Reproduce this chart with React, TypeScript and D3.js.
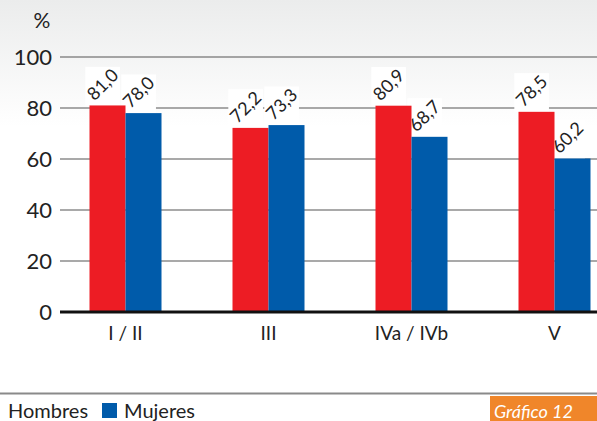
import React from "react";
import * as d3 from "d3";

const categories = ["I / II", "III", "IVa / IVb", "V"];
const hombres = [81.0, 72.2, 80.9, 78.5];
const mujeres = [78.0, 73.3, 68.7, 60.2];
const yTicks = [0, 20, 40, 60, 80, 100];
const seriesNames = ["Hombres", "Mujeres"];
const colors = ["#ed1c24", "#005baa"];

const W = 597;
const H = 421;
const FONT = "Lato, 'Open Sans', sans-serif";

const App = () => {
  const left = 60;
  const y = d3.scaleLinear().domain([0, 100]).range([312, 57]);
  const x0 = d3.scaleBand().domain(categories).range([54, 626]).padding(0);
  const x1 = d3.scaleBand().domain(seriesNames).range([0, 72]);
  const offset = (x0.bandwidth() - 72) / 2;
  const bw = x1.bandwidth();

  const rows = categories.flatMap((c, i) => [
    { c, s: seriesNames[0], v: hombres[i], k: 0 },
    { c, s: seriesNames[1], v: mujeres[i], k: 1 },
  ]);
  const fmt = (v: number) => v.toFixed(1).replace(".", ",");
  const bx = (d: any) => (x0(d.c) as number) + offset + (x1(d.s) as number);

  // caja blanca detrás de cada etiqueta girada
  const tw = 36;
  const asc = 13;
  const k = Math.SQRT1_2;
  const ox = (d: any) => bx(d) + bw / 2 - 13;
  const oy = (d: any) => y(d.v) - 4;

  const legend = [
    { name: seriesNames[0], sx: -24, tx: 8 },
    { name: seriesNames[1], sx: 102, tx: 124 },
  ];

  return (
    <svg width={W} height={H} style={{ position: "absolute", left: 0, top: 0 }}>
      <defs>
        <linearGradient id="bg" x1="0" y1="0" x2="0" y2="1">
          <stop offset="0%" stopColor="#ebecec" />
          <stop offset="30%" stopColor="#ffffff" />
        </linearGradient>
      </defs>
      <rect width={W} height={H} fill="url(#bg)" />

      {yTicks
        .filter((t) => t > 0)
        .map((t) => (
          <line key={"g" + t} x1={left} x2={W} y1={y(t)} y2={y(t)} stroke="#555" strokeWidth={1.2} />
        ))}

      {yTicks.map((t) => (
        <text
          key={"t" + t}
          x={52}
          y={y(t) + 8}
          textAnchor="end"
          fontFamily={FONT}
          fontSize={22}
          fill="#222"
        >
          {t}
        </text>
      ))}
      <text x={42} y={28} textAnchor="middle" fontFamily={FONT} fontSize={21} fill="#222">
        %
      </text>

      {rows.map((d, i) => (
        <rect
          key={"m" + i}
          x={ox(d) - k * asc}
          y={oy(d) - k * tw - k * asc}
          width={k * (tw + asc)}
          height={k * (tw + asc) + 4}
          fill="#fff"
        />
      ))}

      {rows.map((d, i) => (
        <rect
          key={"b" + i}
          x={bx(d)}
          y={y(d.v)}
          width={bw}
          height={y(0) - y(d.v)}
          fill={colors[d.k]}
        />
      ))}

      {rows.map((d, i) => (
        <text
          key={"l" + i}
          transform={`translate(${ox(d)},${oy(d)}) rotate(-45)`}
          fontFamily={FONT}
          fontSize={18}
          fill="#222"
        >
          {fmt(d.v)}
        </text>
      ))}

      <line x1={left} x2={W} y1={y(0)} y2={y(0)} stroke="#111" strokeWidth={3} />

      {categories.map((c) => (
        <text
          key={c}
          x={(x0(c) as number) + x0.bandwidth() / 2}
          y={340}
          textAnchor="middle"
          fontFamily={FONT}
          fontSize={19}
          fill="#222"
        >
          {c}
        </text>
      ))}

      <line x1={0} x2={W} y1={393.5} y2={393.5} stroke="#8a8a8a" strokeWidth={2} />
      {legend.map((l, i) => (
        <g key={l.name}>
          <rect x={l.sx} y={403} width={15} height={15} fill={colors[i]} />
          <text x={l.tx} y={418} fontFamily={FONT} fontSize={20} fill="#222">
            {l.name}
          </text>
        </g>
      ))}

      <rect x={490} y={396} width={120} height={30} fill="#f0862a" />
      <text x={494} y={418} fontFamily={FONT} fontStyle="italic" fontSize={18} fill="#fff">
        Gráfico 12
      </text>
    </svg>
  );
};

export default App;
